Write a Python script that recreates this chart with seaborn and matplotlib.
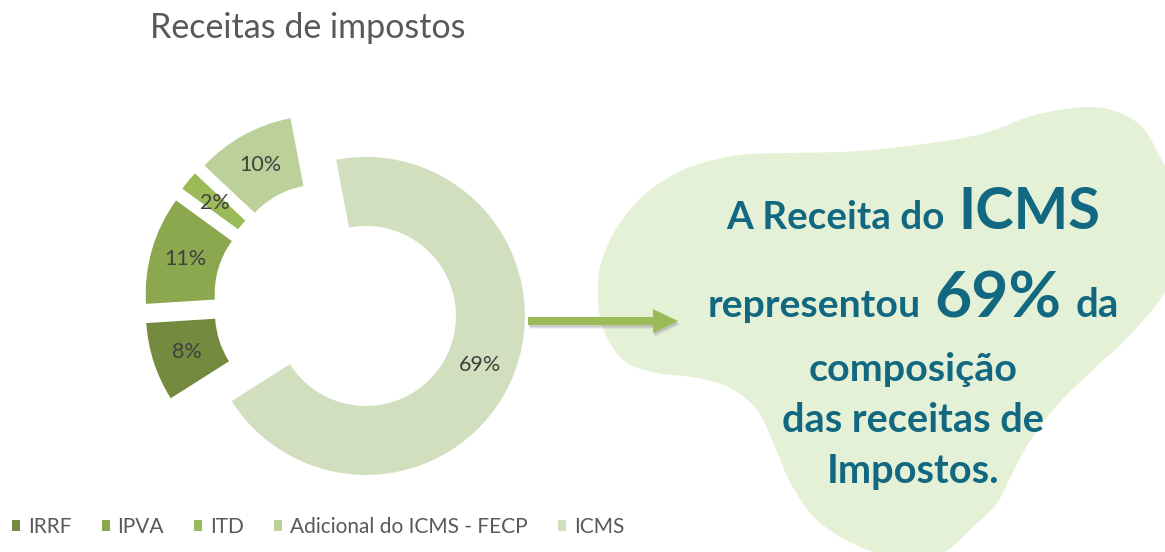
import numpy as np
import matplotlib
matplotlib.use('Agg')
import matplotlib.pyplot as plt
import seaborn as sns
from matplotlib.path import Path
from matplotlib.patches import PathPatch, FancyArrow

# ---------------- data ----------------
categories = ['IRRF', 'IPVA', 'ITD', 'Adicional do ICMS - FECP', 'ICMS']
shares = [8, 11, 2, 10, 69]
colors = ['#738A3F', '#8CA84F', '#9BBB59', '#BCD09A', '#D2DFBE']
title = 'Receitas de impostos'
callout_lines = [
    [('A Receita do', 218), ('ICMS', 142)],
    [('representou', 213), ('69%', 127), ('da', 43)],
    [('composição', 208)],
    [('das receitas de', 262)],
    [('Impostos.', 172)],
]
callout_baselines = [229, 317, 381, 432, 483]

# ---------------- style ----------------
sns.set_theme(style='white')
plt.rcParams['font.family'] = ['Lato', 'DejaVu Sans']

W, H = 1165, 552
fig = plt.figure(figsize=(W / 100, H / 100), dpi=100)
fig.patch.set_facecolor('white')

# overlay axes in pixel coordinates (y down)
bg = fig.add_axes([0, 0, 1, 1], zorder=0)
bg.set_xlim(0, W)
bg.set_ylim(H, 0)
bg.axis('off')

# ---------------- blob shape ----------------
blob_pts = np.array([
    (790, 153), (860, 151), (930, 143), (985, 133), (1035, 115), (1085, 107),
    (1118, 112), (1142, 127), (1158, 153), (1172, 185), (1178, 240), (1166, 290),
    (1128, 337), (1095, 368), (1060, 402), (1032, 438), (1014, 470), (997, 503),
    (973, 527), (945, 552), (910, 566), (875, 553), (840, 537), (812, 515),
    (790, 482), (775, 447), (757, 410), (730, 388), (697, 378), (657, 373),
    (627, 363), (610, 343), (600, 317), (598, 283), (603, 257), (620, 223),
    (650, 190), (690, 167), (740, 155),
], dtype=float)


def catmull_closed(p, n=24):
    out = []
    N = len(p)
    for i in range(N):
        p0, p1, p2, p3 = p[i - 1], p[i], p[(i + 1) % N], p[(i + 2) % N]
        for t in np.linspace(0, 1, n, endpoint=False):
            t2, t3 = t * t, t * t * t
            out.append(0.5 * ((2 * p1) + (-p0 + p2) * t +
                              (2 * p0 - 5 * p1 + 4 * p2 - p3) * t2 +
                              (-p0 + 3 * p1 - 3 * p2 + p3) * t3))
    out.append(out[0])
    return np.array(out)


curve = catmull_closed(blob_pts)
bg.add_patch(PathPatch(Path(curve), facecolor='#E5F1D6', edgecolor='none', zorder=1))

# ---------------- arrow ----------------
for k, a in [(4, 0.10), (3, 0.15), (2, 0.2)]:
    bg.add_patch(FancyArrow(528 + k * 0.5, 321 + k, 150, 0, width=8, head_width=24,
                            head_length=25, length_includes_head=True,
                            color='#7F7F7F', alpha=a, linewidth=0, zorder=2))
bg.add_patch(FancyArrow(528, 321, 150, 0, width=8, head_width=24, head_length=25,
                        length_includes_head=True, color='#9BBB59', linewidth=0, zorder=3))

# ---------------- title ----------------
bg.text(150, 38, title, fontsize=24.5, color='#595959', ha='left', va='baseline', zorder=4)

# ---------------- donut ----------------
r_px = 159
cx, cy = 336, 303
half = 1.3
size = 2 * half * r_px
ax = fig.add_axes([(cx - size / 2) / W, (H - cy - size / 2) / H, size / W, size / H], zorder=2)
ax.patch.set_alpha(0)
wedges, texts, autotexts = ax.pie(
    shares, colors=colors, explode=[0.205] * len(shares), startangle=212.4,
    counterclock=False, wedgeprops=dict(width=0.434, linewidth=0),
    autopct=lambda p: f'{p:.0f}%', pctdistance=0.783,
    textprops=dict(color='#404040', fontsize=15.5))
ax.set_xlim(-half, half)
ax.set_ylim(-half, half)
ax.set_aspect('equal')
ax.axis('off')

# ---------------- legend ----------------
fig.legend(wedges, categories, loc='center left', bbox_to_anchor=(12 / W, 1 - 527 / H),
           ncol=5, frameon=False, fontsize=15, labelcolor='#595959',
           handlelength=0.385, handleheight=0.385, handletextpad=0.385, columnspacing=1.44,
           borderpad=0, borderaxespad=0)

# ---------------- callout text ----------------
teal = '#116880'
renderer = fig.canvas.get_renderer()
center_x = 913
gap = 14
for segs, base in zip(callout_lines, callout_baselines):
    arts = []
    widths = []
    for txt, target in segs:
        t = bg.text(0, base, txt, fontsize=30, fontweight='bold', color=teal,
                    ha='left', va='baseline', zorder=5)
        w = t.get_window_extent(renderer).width
        t.set_fontsize(30 * target / w)
        arts.append(t)
        widths.append(target)
    total = sum(widths) + gap * (len(segs) - 1)
    x = center_x - total / 2
    for t, w in zip(arts, widths):
        t.set_x(x)
        x += w + gap

fig.savefig('out.png', dpi=100, facecolor='white')
